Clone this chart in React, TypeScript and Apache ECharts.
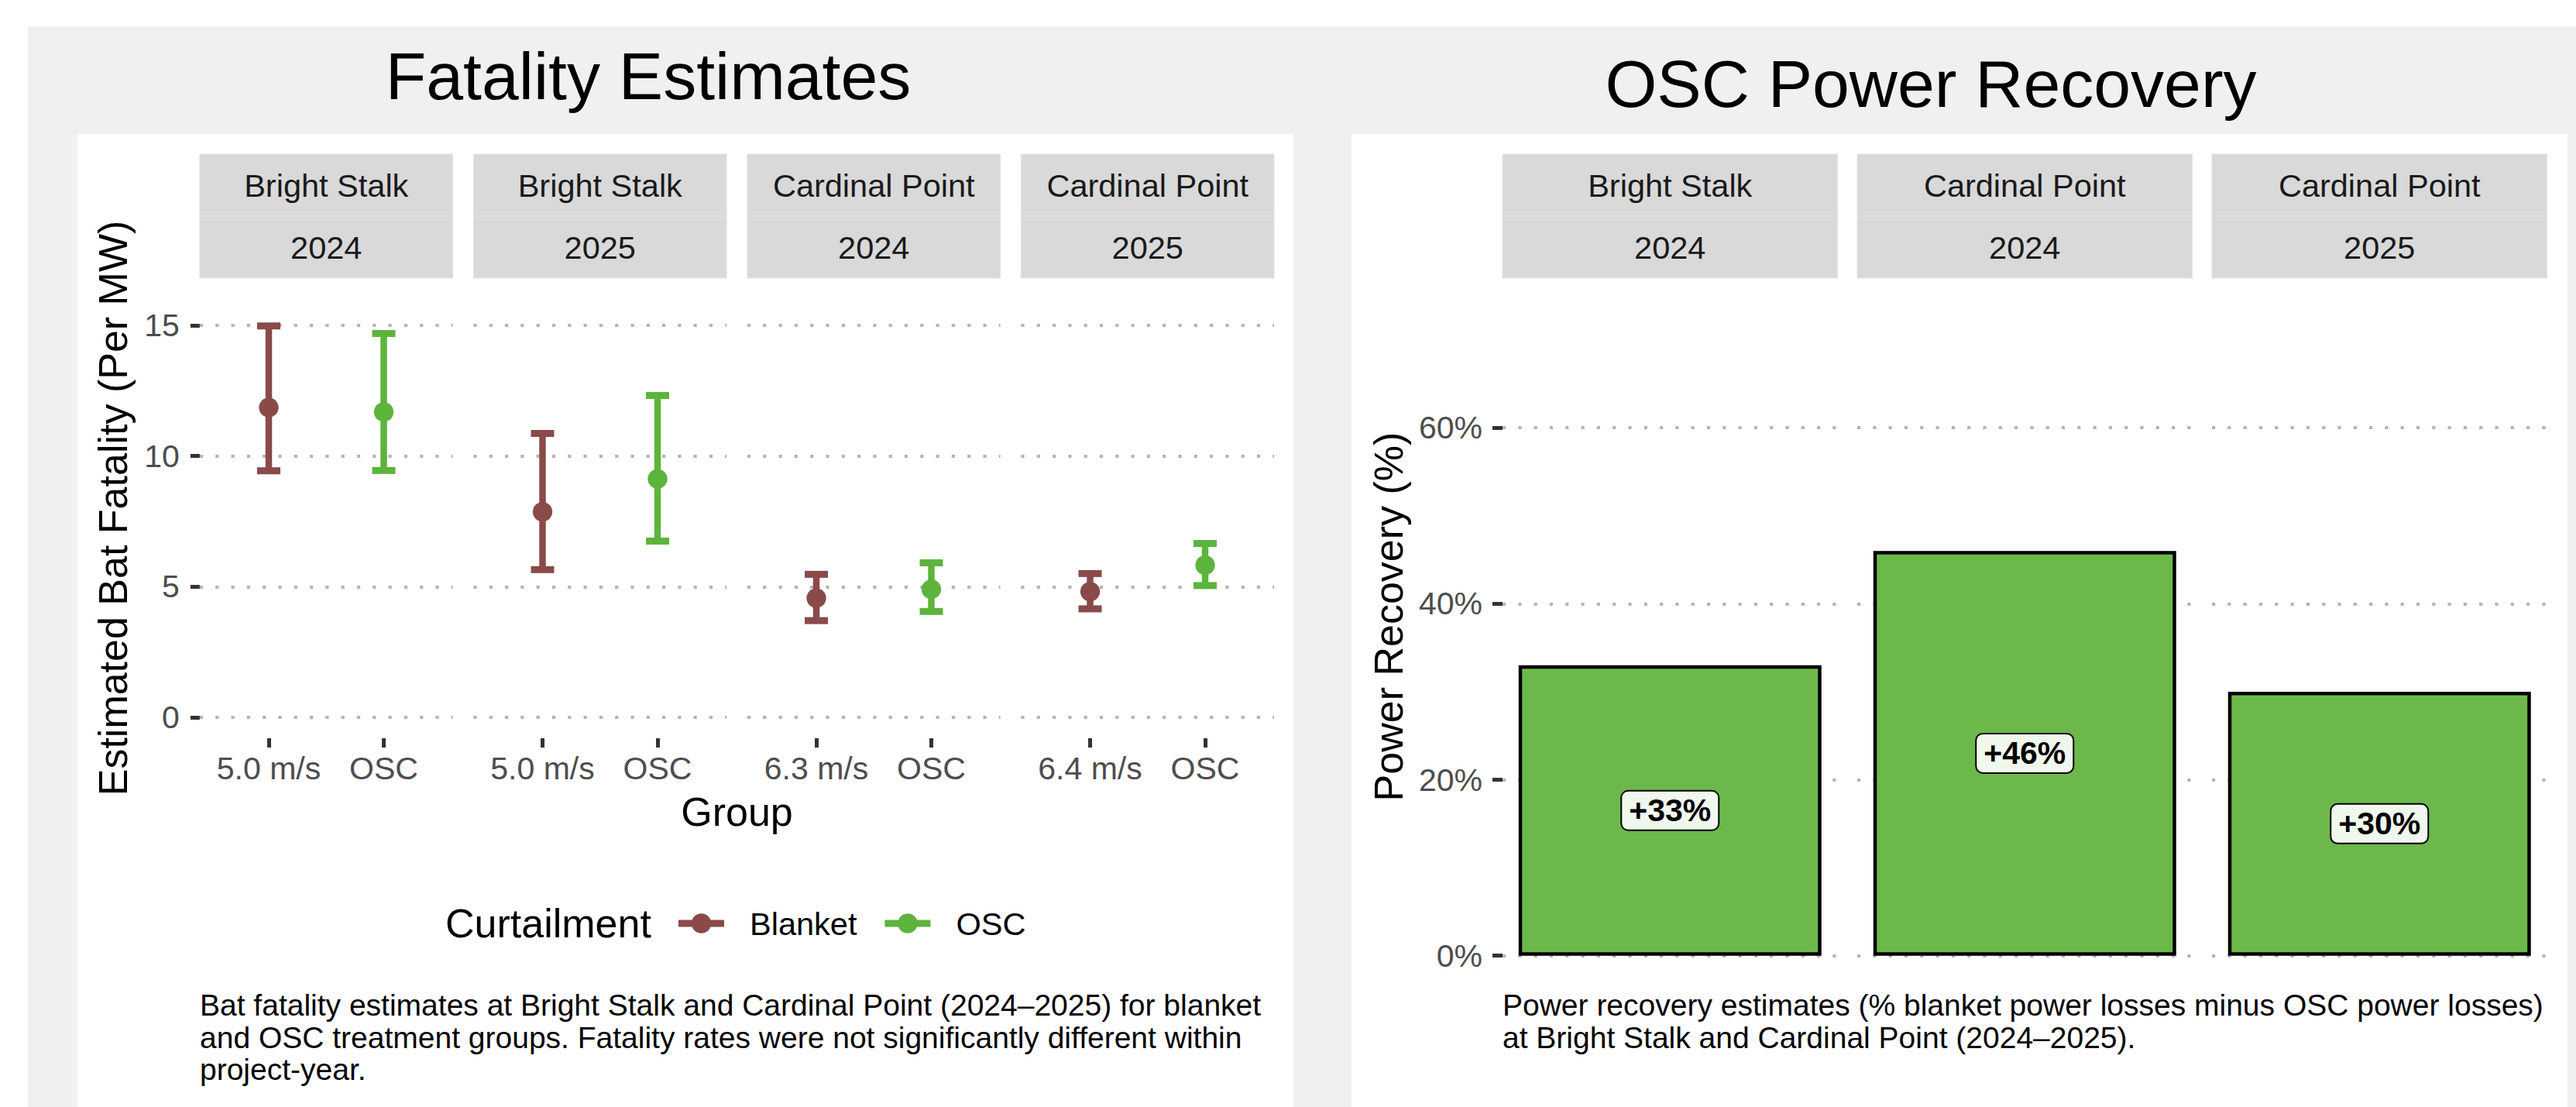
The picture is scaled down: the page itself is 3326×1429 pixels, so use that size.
import React, { useEffect, useRef } from "react";
import * as echarts from "echarts";

const FONT = '"Liberation Sans", Arial, Helvetica, sans-serif';

// ---------- Left chart: Fatality Estimates ----------
const fatalitySites = ["Bright Stalk", "Bright Stalk", "Cardinal Point", "Cardinal Point"];
const fatalityYears = ["2024", "2025", "2024", "2025"];
const blanketLabels = ["5.0 m/s", "5.0 m/s", "6.3 m/s", "6.4 m/s"];
const oscLabel = "OSC";
const blanketEst = [11.85, 7.86, 4.56, 4.81];
const blanketLow = [9.43, 5.65, 3.7, 4.15];
const blanketHigh = [14.97, 10.86, 5.47, 5.5];
const oscEst = [11.68, 9.12, 4.9, 5.82];
const oscLow = [9.44, 6.74, 4.05, 5.04];
const oscHigh = [14.68, 12.31, 5.91, 6.65];
const fatalityTicks = [0, 5, 10, 15];
const legendNames = ["Blanket", "OSC"];

// ---------- Right chart: OSC Power Recovery ----------
const recoverySites = ["Bright Stalk", "Cardinal Point", "Cardinal Point"];
const recoveryYears = ["2024", "2024", "2025"];
const recoveryValues = [33, 46, 30];
const recoveryTicks = [0, 20, 40, 60];

const leftCaption =
  "Bat fatality estimates at Bright Stalk and Cardinal Point (2024\u20132025) for blanket\nand OSC treatment groups. Fatality rates were not significantly different within\nproject-year.";
const rightCaption =
  "Power recovery estimates (% blanket power losses minus OSC power losses)\nat Bright Stalk and Cardinal Point (2024\u20132025).";

const BROWN = "#8A4A4A";
const GREEN = "#5DB43C";
const BAR_GREEN = "#6DB84B";
const GRID_GRAY = "#B4B4B4";

const W = 3326;
const H = 1429;

const LEGEND_ICON =
  "path://M0,8.5H59V17.5H0Z M16.7,13A12.8,12.8 0 1,1 42.3,13A12.8,12.8 0 1,1 16.7,13Z";

function txt(x: number, y: number, text: string, size: number, opts: any = {}) {
  const align = opts.align || "center";
  const valign = opts.valign || "middle";
  return {
    type: "text",
    x,
    y,
    rotation: opts.rotation || 0,
    silent: true,
    style: {
      text,
      fontSize: size,
      fontFamily: FONT,
      fontWeight: opts.weight || "normal",
      fill: opts.color || "#000000",
      align,
      verticalAlign: valign,
      textAlign: align,
      textVerticalAlign: valign,
      lineHeight: opts.lineHeight,
    },
  };
}

function buildOption() {
  const grid: any[] = [];
  const xAxis: any[] = [];
  const yAxis: any[] = [];
  const series: any[] = [];
  const graphic: any[] = [];

  const tickLine = { color: "#333333", width: 5 };
  const axisText = { fontSize: 41, color: "#4D4D4D", fontFamily: FONT };
  const markGrid = (vals: number[]) => ({
    silent: true,
    symbol: ["none", "none"],
    z: 1,
    label: { show: false },
    emphasis: { disabled: true },
    lineStyle: { color: GRID_GRAY, width: 4.2, type: [4.2, 16.1], cap: "butt" },
    data: vals.map((v) => ({ yAxis: v })),
  });

  // Left facets
  const LX = [257.9, 611.4, 964.9, 1318.4];
  const LW = 326.7;
  const PT = 359;
  const LH = 594;

  const renderErr = (params: any, api: any) => {
    const x = api.value(0);
    const lo = api.value(1);
    const mid = api.value(2);
    const hi = api.value(3);
    const pHi = api.coord([x, hi]);
    const pLo = api.coord([x, lo]);
    const pMid = api.coord([x, mid]);
    const color = api.visual("color");
    const cap = 15;
    return {
      type: "group",
      children: [
        { type: "line", shape: { x1: pHi[0], y1: pHi[1], x2: pLo[0], y2: pLo[1] }, style: { stroke: color, lineWidth: 8.5 } },
        { type: "line", shape: { x1: pHi[0] - cap, y1: pHi[1], x2: pHi[0] + cap, y2: pHi[1] }, style: { stroke: color, lineWidth: 9 } },
        { type: "line", shape: { x1: pLo[0] - cap, y1: pLo[1], x2: pLo[0] + cap, y2: pLo[1] }, style: { stroke: color, lineWidth: 9 } },
        { type: "circle", shape: { cx: pMid[0], cy: pMid[1], r: 12.7 }, style: { fill: color } },
      ],
    };
  };

  for (let i = 0; i < 4; i++) {
    grid.push({ left: LX[i], top: PT, width: LW, height: LH, containLabel: false });
    xAxis.push({
      type: "value",
      gridIndex: i,
      min: 0.4,
      max: 2.6,
      axisLine: { show: false, onZero: false },
      splitLine: { show: false },
      axisTick: { show: true, customValues: [1, 2], length: 12, lineStyle: tickLine },
      axisLabel: {
        ...axisText,
        customValues: [1, 2],
        margin: 18,
        formatter: (v: number) => (v === 1 ? blanketLabels[i] : oscLabel),
      },
    });
    yAxis.push({
      type: "value",
      gridIndex: i,
      min: -0.8,
      max: 16.8,
      axisLine: { show: false, onZero: false },
      splitLine: { show: false },
      axisTick: { show: i === 0, customValues: fatalityTicks, length: 12, lineStyle: tickLine },
      axisLabel: { ...axisText, show: i === 0, customValues: fatalityTicks, margin: 26 },
    });
    series.push({
      type: "line",
      name: "grid-l" + i,
      xAxisIndex: i,
      yAxisIndex: i,
      data: [],
      silent: true,
      markLine: markGrid(fatalityTicks),
    });
    series.push({
      type: "custom",
      name: legendNames[0],
      xAxisIndex: i,
      yAxisIndex: i,
      itemStyle: { color: BROWN },
      encode: { x: 0, y: [1, 2, 3] },
      renderItem: renderErr,
      data: [[1, blanketLow[i], blanketEst[i], blanketHigh[i]]],
      z: 3,
    });
    series.push({
      type: "custom",
      name: legendNames[1],
      xAxisIndex: i,
      yAxisIndex: i,
      itemStyle: { color: GREEN },
      encode: { x: 0, y: [1, 2, 3] },
      renderItem: renderErr,
      data: [[2, oscLow[i], oscEst[i], oscHigh[i]]],
      z: 3,
    });
    // strips
    graphic.push({ type: "rect", silent: true, shape: { x: LX[i], y: 199, width: LW, height: 80 }, style: { fill: "#D9D9D9", stroke: "#E4E4E4", lineWidth: 1 } });
    graphic.push({ type: "rect", silent: true, shape: { x: LX[i], y: 279, width: LW, height: 80 }, style: { fill: "#D9D9D9", stroke: "#E4E4E4", lineWidth: 1 } });
    graphic.push(txt(LX[i] + LW / 2, 239, fatalitySites[i], 41.5, { color: "#1A1A1A" }));
    graphic.push(txt(LX[i] + LW / 2, 319, fatalityYears[i], 41.5, { color: "#1A1A1A" }));
  }

  // Right facets
  const RX = [1940, 2398, 2856];
  const RW = 432.5;
  const RH = 874.7;
  for (let j = 0; j < 3; j++) {
    const gi = 4 + j;
    grid.push({ left: RX[j], top: PT, width: RW, height: RH, containLabel: false });
    xAxis.push({
      type: "category",
      gridIndex: gi,
      data: [recoverySites[j] + " " + recoveryYears[j]],
      axisLine: { show: false },
      axisTick: { show: false },
      axisLabel: { show: false },
      splitLine: { show: false },
    });
    yAxis.push({
      type: "value",
      gridIndex: gi,
      min: 0,
      max: 77,
      axisLine: { show: false, onZero: false },
      splitLine: { show: false },
      axisTick: { show: j === 0, customValues: recoveryTicks, length: 13, lineStyle: tickLine },
      axisLabel: { ...axisText, show: j === 0, customValues: recoveryTicks, margin: 26, formatter: "{value}%" },
    });
    series.push({
      type: "line",
      name: "grid-r" + j,
      xAxisIndex: gi,
      yAxisIndex: gi,
      data: [],
      silent: true,
      markLine: markGrid(recoveryTicks),
    });
    series.push({
      type: "bar",
      name: "Power Recovery",
      xAxisIndex: gi,
      yAxisIndex: gi,
      data: [recoveryValues[j]],
      barWidth: 391,
      z: 3,
      itemStyle: { color: BAR_GREEN, borderColor: "#000000", borderWidth: 4.5 },
      label: {
        show: true,
        position: "inside",
        formatter: "+{c}%",
        fontSize: 41,
        fontWeight: "bold",
        fontFamily: FONT,
        color: "#000000",
        backgroundColor: "#F0F8ED",
        borderColor: "#000000",
        borderWidth: 2,
        borderRadius: 8,
        padding: [5, 9, 3, 9],
      },
    });
    graphic.push({ type: "rect", silent: true, shape: { x: RX[j], y: 199, width: RW, height: 80 }, style: { fill: "#D9D9D9", stroke: "#E4E4E4", lineWidth: 1 } });
    graphic.push({ type: "rect", silent: true, shape: { x: RX[j], y: 279, width: RW, height: 80 }, style: { fill: "#D9D9D9", stroke: "#E4E4E4", lineWidth: 1 } });
    graphic.push(txt(RX[j] + RW / 2, 239, recoverySites[j], 41.5, { color: "#1A1A1A" }));
    graphic.push(txt(RX[j] + RW / 2, 319, recoveryYears[j], 41.5, { color: "#1A1A1A" }));
  }

  // Titles, axis titles, captions
  graphic.push(txt(837, 98, "Fatality Estimates", 86));
  graphic.push(txt(2493, 108, "OSC Power Recovery", 86));
  graphic.push(txt(146, 656, "Estimated Bat Fatality (Per MW)", 52, { rotation: Math.PI / 2 }));
  graphic.push(txt(951.5, 1048, "Group", 52));
  graphic.push(txt(1793, 796, "Power Recovery (%)", 52, { rotation: Math.PI / 2 }));
  graphic.push(txt(575, 1192, "Curtailment", 52, { align: "left" }));
  graphic.push(txt(258, 1277, leftCaption, 39, { align: "left", valign: "top", lineHeight: 41.5 }));
  graphic.push(txt(1940, 1277, rightCaption, 39, { align: "left", valign: "top", lineHeight: 41.5 }));

  return {
    animation: false,
    backgroundColor: "transparent",
    textStyle: { fontFamily: FONT },
    grid,
    xAxis,
    yAxis,
    series,
    legend: {
      data: [
        { name: legendNames[0], icon: LEGEND_ICON, itemStyle: { color: BROWN } },
        { name: legendNames[1], icon: LEGEND_ICON, itemStyle: { color: GREEN } },
      ],
      left: 876,
      top: 1171,
      padding: 0,
      orient: "horizontal",
      itemWidth: 59,
      itemHeight: 26,
      itemGap: 36,
      selectedMode: false,
      textStyle: { fontSize: 41.5, color: "#000000", fontFamily: FONT, padding: [0, 0, 0, 28] },
    },
    graphic: { elements: graphic },
  };
}

export default function App() {
  const ref = useRef<HTMLDivElement>(null);
  useEffect(() => {
    document.body.style.margin = "0";
    if (!ref.current) return;
    const chart = echarts.init(ref.current, null, { renderer: "svg" });
    chart.setOption(buildOption() as any);
    return () => chart.dispose();
  }, []);
  return (
    <div style={{ position: "relative", width: W, height: H, background: "#FFFFFF", overflow: "hidden" }}>
      <div style={{ position: "absolute", left: 36, top: 34, width: W - 36, height: H - 34, background: "#F0F0F0" }} />
      <div style={{ position: "absolute", left: 100, top: 173, width: 1570, height: H - 173, background: "#FFFFFF" }} />
      <div style={{ position: "absolute", left: 1745, top: 173, width: 1570, height: H - 173, background: "#FFFFFF" }} />
      <div ref={ref} style={{ position: "absolute", left: 0, top: 0, width: W, height: H }} />
    </div>
  );
}
